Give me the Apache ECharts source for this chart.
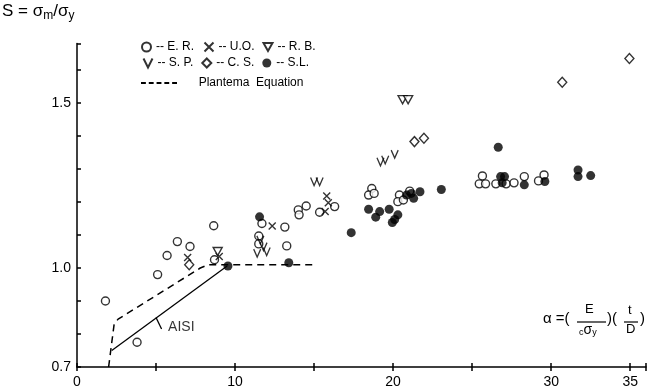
<!DOCTYPE html>
<html>
<head>
<meta charset="utf-8">
<script src="https://cdn.jsdelivr.net/npm/echarts@6/dist/echarts.min.js"></script>
<style>html,body{margin:0;padding:0;background:#fff;}#chart{width:649px;height:392px;}</style>
</head>
<body>
<div id="chart"></div>
<script>
// ---- data (alpha, S) ----
const erData = [[1.8,0.90],[3.8,0.775],[5.1,0.98],[5.7,1.038],[6.35,1.08],[7.15,1.065],[8.65,1.128],[8.7,1.025],
  [11.5,1.097],[11.5,1.073],[11.7,1.135],[13.15,1.124],[13.27,1.067],
  [14.0,1.176],[14.5,1.188],[14.05,1.161],[15.35,1.169],[16.3,1.186],
  [18.65,1.241],[18.45,1.221],[18.8,1.226],
  [20.4,1.221],[20.3,1.201],[20.65,1.206],[21.05,1.233],
  [25.65,1.279],[25.45,1.255],[25.85,1.255],[26.5,1.255],[27.15,1.255],[27.65,1.258],[28.3,1.277],[29.2,1.264],[29.55,1.282]];
const uoData = [[7.0,1.032],[9.0,1.035],[12.35,1.127],[15.7,1.171],[15.8,1.218],[15.9,1.198]];
const rbData = [[8.9,1.05],[20.6,1.51],[20.95,1.51]];
const spData = [[11.6,1.085],[11.8,1.065],[12.0,1.05],[11.4,1.045],[15.0,1.262],[15.35,1.262],[19.2,1.322],[19.5,1.328],[20.1,1.345]];
const csData = [[7.1,1.01],[21.35,1.383],[21.95,1.393],[30.7,1.563],[34.95,1.635]];
const slData = [[9.55,1.006],[13.4,1.016],[11.55,1.155],[17.35,1.107],[18.45,1.178],[19.15,1.171],[18.9,1.154],[19.75,1.178],
  [20.3,1.161],[20.1,1.147],[19.95,1.138],[20.85,1.221],[21.15,1.226],[21.3,1.211],[21.7,1.231],[23.05,1.238],
  [26.65,1.366],[26.8,1.277],[27.05,1.277],[26.9,1.258],[28.3,1.252],[29.6,1.262],[31.7,1.297],[31.7,1.277],[32.5,1.28]];
const plantemaData = [[2.0,0.70],[2.35,0.83],[2.6,0.845],[7.8,1.0],[8.3,1.01],[15.1,1.01]];
const aisiData = [[2.2,0.75],[9.5,1.006]];
const aisiArrow = [[5.0,0.85],[5.35,0.815]];
const aisiLabelPos = [[6.6,0.82]];
const yTickLabels = ['0.7','1.0','1.5'];
const xTickLabels = ['0','10','20','30','35'];
const legendRow1 = ['E. R.','U.O.','R. B.'];
const legendRow2 = ['S. P.','C. S.','S.L.'];
const legendRow3 = ['Plantema  Equation'];

const FONT = 'Liberation Sans';
const chart = echarts.init(document.getElementById('chart'), null, {renderer:'canvas'});

const openStyle = {color:'#fff', borderColor:'#000', borderWidth:1.4};
const strokeStyle = {color:'none', borderColor:'#000', borderWidth:1.4};
const dashIcon = 'path://M0,0L5,0L5,2L0,2Z M8,0L13,0L13,2L8,2Z M16,0L21,0L21,2L16,2Z M24,0L29,0L29,2L24,2Z M32,0L37,0L37,2L32,2Z';

function sc(name, data, symbol, size, style){
  return {type:'scatter', name, data, symbol, symbolSize:size, itemStyle:style, z:5, emphasis:{disabled:true}};
}
function legendCfg(names, top, widths, extra){
  return Object.assign({
    left:141, top, itemWidth:9, itemHeight:9, itemGap:8, padding:0, selectedMode:false,
    formatter: n => '-- ' + n,
    textStyle:{fontFamily:FONT, fontSize:12, color:'#000', padding:[0,0,0,0]},
    data: names.map((n,i)=>({name:n, textStyle:{width:widths[i]}}))
  }, extra||{});
}

const option = {
  animation:false,
  backgroundColor:'#fff',
  grid:{left:77, right:0, top:43.6, bottom:25, containLabel:false},
  xAxis:[{
    type:'value', min:0, max:36, interval:5,
    axisLine:{lineStyle:{color:'#000', width:1.5}},
    axisTick:{inside:true, length:4, lineStyle:{color:'#000', width:1.5}, interval:(i,v)=>v<=35},
    splitLine:{show:false},
    axisLabel:{fontFamily:FONT, fontSize:14, color:'#000', margin:8,
      formatter:v=> xTickLabels.indexOf(String(v))>=0 ? String(v) : ''}
  },{
    type:'value', min:0, max:36, interval:5, position:'bottom',
    axisLine:{show:false}, splitLine:{show:false}, axisLabel:{show:false},
    axisTick:{inside:false, length:4, lineStyle:{color:'#000', width:1.5}}
  }],
  yAxis:{
    type:'value', min:0.7, max:1.68, interval:0.1,
    axisLine:{lineStyle:{color:'#000', width:1.5}},
    axisTick:{inside:true, length:4, lineStyle:{color:'#000', width:1.5}},
    splitLine:{show:false},
    axisLabel:{fontFamily:FONT, fontSize:14, color:'#000', margin:6,
      formatter:v=>{ const s=(Math.round(v*10)/10).toFixed(1); return yTickLabels.indexOf(s)>=0 && Math.abs(v-parseFloat(s))<1e-6 ? s : ''; }}
  },
  legend:[
    legendCfg(legendRow1, 40, [62,55,40]),
    legendCfg(legendRow2, 56, [64,53,40]),
    {left:141, top:77, itemWidth:36, itemHeight:2, padding:0, selectedMode:false,
      formatter:n=>'     '+n,
      textStyle:{fontFamily:FONT, fontSize:12, color:'#000'},
      data:legendRow3.map(n=>({name:n, icon:dashIcon, itemStyle:{color:'#000', borderWidth:0}}))}
  ],
  series:[
    sc('E. R.', erData, 'circle', 8, openStyle),
    sc('U.O.', uoData, 'path://M0,0L10,10M10,0L0,10', 7, strokeStyle),
    sc('R. B.', rbData, 'path://M0,0L10,0L5,9Z', [9,8], openStyle),
    sc('S. P.', spData, 'path://M0,0L5,10L10,0', [7,8], strokeStyle),
    sc('C. S.', csData, 'diamond', [9,10], openStyle),
    sc('S.L.', slData, 'circle', 9, {color:'#000'}),
    {type:'line', name:'Plantema  Equation', data:plantemaData, symbol:'none', z:3,
      lineStyle:{color:'#000', width:1.5, type:[7,5]}, itemStyle:{color:'#000'}},
    {type:'line', name:'AISI', data:aisiData, symbol:'none', z:3, lineStyle:{color:'#000', width:1.3}},
    {type:'line', name:'AISI arrow', data:aisiArrow, symbol:'none', z:3, lineStyle:{color:'#000', width:1.3}},
    {type:'scatter', name:'AISI label', data:aisiLabelPos, symbolSize:0,
      label:{show:true, position:'inside', formatter:'AISI', fontFamily:FONT, fontSize:14, color:'#000'}}
  ],
  graphic:[
    {type:'text', left:2, top:3, style:{
      text:'{s|S = σ}{sub|m}{s|/σ}{sub|y}',
      rich:{s:{fontFamily:FONT, fontSize:17, fill:'#000'}, sub:{fontFamily:FONT, fontSize:12, fill:'#000', padding:[8,0,0,0]}}
    }},
    {type:'text', left:543, top:311, style:{text:'α =(', fontFamily:FONT, fontSize:15, fill:'#000'}},
    {type:'text', left:585, top:303, style:{text:'E', fontFamily:FONT, fontSize:13, fill:'#000'}},
    {type:'line', shape:{x1:577, y1:322, x2:606, y2:322}, style:{stroke:'#000', lineWidth:1.2}},
    {type:'text', left:579, top:323, style:{
      text:'{c|c}{s|σ}{y|y}',
      rich:{c:{fontFamily:FONT, fontSize:9, fill:'#000', padding:[5,0,0,0]}, s:{fontFamily:FONT, fontSize:14, fill:'#000'}, y:{fontFamily:FONT, fontSize:9, fill:'#000', padding:[6,0,0,0]}}
    }},
    {type:'text', left:607, top:311, style:{text:')(', fontFamily:FONT, fontSize:15, fill:'#000'}},
    {type:'text', left:628, top:304, style:{text:'t', fontFamily:FONT, fontSize:13, fill:'#000'}},
    {type:'line', shape:{x1:624, y1:322, x2:638, y2:322}, style:{stroke:'#000', lineWidth:1.2}},
    {type:'text', left:626, top:323, style:{text:'D', fontFamily:FONT, fontSize:13, fill:'#000'}},
    {type:'text', left:640, top:311, style:{text:')', fontFamily:FONT, fontSize:15, fill:'#000'}}
  ]
};
chart.setOption(option);
</script>
</body>
</html>
